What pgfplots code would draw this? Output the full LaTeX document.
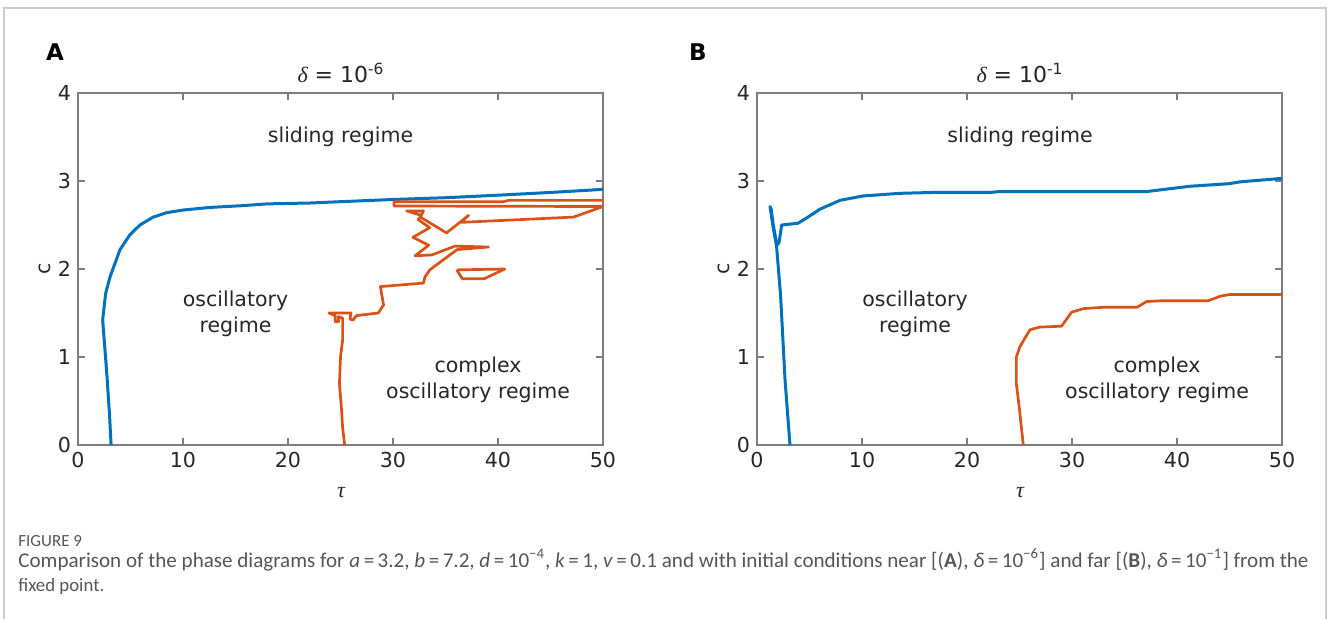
\documentclass[border=0pt]{standalone}
\usepackage{graphicx}
\usepackage{pgfplots}
\pgfplotsset{compat=1.18}
\usepackage{fontspec}
\setmainfont{DejaVu Sans}
\newfontfamily\grk{Liberation Serif}
\newfontfamily\capfont{Carlito}
\definecolor{mblue}{RGB}{0,114,189}
\definecolor{mred}{RGB}{217,83,25}
\definecolor{axgray}{RGB}{125,125,125}
\definecolor{txt}{RGB}{38,38,38}
\definecolor{capgray}{RGB}{85,85,85}
\definecolor{framegray}{RGB}{205,205,205}
\newcommand{\tickfont}{\fontsize{10.3bp}{12bp}\selectfont}
\newcommand{\regfont}{\fontsize{10.25bp}{13bp}\selectfont}
\pgfplotsset{myax/.style={
  scale only axis, width=262.5bp, height=176bp,
  xmin=0, xmax=50, ymin=0, ymax=4,
  xtick={0,10,20,30,40,50}, ytick={0,1,2,3,4},
  tick align=inside, major tick length=3.5bp,
  axis line style={axgray, line width=0.6bp},
  tick style={axgray, line width=0.6bp},
  tick label style={font=\tickfont, text=txt},
  /pgf/number format/assume math mode=true,
  anchor=south west, clip=true},
  blueline/.style={mblue, line width=1.5bp, line join=round, no markers},
  redline/.style={mred, line width=1.35bp, line join=round, no markers}
}
\begin{document}
\begin{tikzpicture}
\path[use as bounding box] (0,0) rectangle (665bp,309.5bp);
\draw[framegray, line width=0.6bp] (2bp,0) -- (2bp,305.5bp) -- (663bp,305.5bp) -- (663bp,0);

% ---------- Panel A ----------
\begin{axis}[myax, at={(39bp,87bp)}]
\addplot[blueline] coordinates {
(3.15,0) (3.0,0.35) (2.75,0.8) (2.35,1.42) (2.63,1.72) (3.05,1.91) (4.0,2.22)
(4.95,2.39) (5.9,2.5) (7.17,2.59) (8.44,2.64) (10.0,2.67) (12.6,2.70) (15.7,2.72)
(18,2.74) (22.1,2.75) (26,2.77) (30,2.79) (35,2.81) (40.2,2.84) (45,2.87) (50,2.905)};
\addplot[redline] coordinates {
(25.4,0) (25.2,0.2) (25.1,0.4) (24.9,0.7) (25.0,1.0) (25.2,1.19) (25.2,1.44)
(24.8,1.46) (24.8,1.40) (24.5,1.40) (24.5,1.47) (23.9,1.50) (26.0,1.50) (25.9,1.43)
(26.2,1.42) (26.5,1.47) (28.6,1.50) (29.1,1.59) (28.8,1.80) (32.9,1.84) (33.05,1.91)
(33.5,1.99) (36.1,2.22) (39.1,2.25) (35.9,2.26) (33.7,2.16) (32.1,2.15) (33.4,2.27)
(31.9,2.36) (33.5,2.47) (32.4,2.56) (32.7,2.61) (31.3,2.66) (32.9,2.66) (32.6,2.59)
(35.1,2.41) (37.2,2.61) (36.5,2.53) (47.2,2.59) (50,2.71) (30.1,2.716) (30.1,2.765)
(40.5,2.765) (41,2.78) (50,2.78)};
\addplot[redline] coordinates {
(36.07,1.99) (36.6,1.89) (38.7,1.89) (40.65,2.0) (36.07,1.99)};
\node[font=\regfont, text=txt] at (axis cs:25,3.5) {sliding regime};
\node[font=\regfont, text=txt, align=center] at (axis cs:15,1.49) {oscillatory\\regime};
\node[font=\regfont, text=txt, align=center] at (axis cs:38.1,0.74) {complex\\oscillatory regime};
\end{axis}

% ---------- Panel B ----------
\begin{axis}[myax, at={(378.5bp,87bp)}]
\addplot[blueline] coordinates {
(3.14,0) (2.67,0.74) (2.25,1.69) (1.87,2.25) (1.5,2.5) (1.24,2.71) (1.35,2.68)
(1.55,2.5) (1.9,2.27) (2.1,2.3) (2.35,2.5) (3.9,2.52) (4.73,2.58) (6.0,2.68)
(7.9,2.78) (10.1,2.83) (13.6,2.86) (16.8,2.87) (22.2,2.87) (23.1,2.88) (37.1,2.88)
(41.2,2.94) (45,2.97) (46,2.99) (50,3.03)};
\addplot[redline] coordinates {
(25.36,0) (25.0,0.4) (24.7,0.7) (24.7,1.0) (25.05,1.12) (26.0,1.31) (26.95,1.34)
(29.0,1.35) (29.97,1.51) (31.1,1.55) (33.0,1.565) (36.2,1.565) (37.1,1.63)
(38.7,1.64) (43.0,1.64) (44.1,1.69) (45.0,1.71) (50,1.71)};
\node[font=\regfont, text=txt] at (axis cs:25.05,3.5) {sliding regime};
\node[font=\regfont, text=txt, align=center] at (axis cs:15.05,1.49) {oscillatory\\regime};
\node[font=\regfont, text=txt, align=center] at (axis cs:38.1,0.74) {complex\\oscillatory regime};
\end{axis}

% ---------- labels ----------
\node[font=\fontsize{11.5bp}{13bp}\selectfont\bfseries, text=black] at (27.5bp,283.5bp) {A};
\node[font=\fontsize{11.5bp}{13bp}\selectfont\bfseries, text=black] at (349bp,283.5bp) {B};
\node[font=\fontsize{11bp}{13bp}\selectfont, text=txt] at (170.5bp,273bp) {{\grk\itshape δ} = 10\textsuperscript{-6}};
\node[font=\fontsize{11bp}{13bp}\selectfont, text=txt] at (510bp,273bp) {{\grk\itshape δ} = 10\textsuperscript{-1}};
\node[font=\tickfont, text=txt, rotate=90] at (22.5bp,175bp) {c};
\node[font=\tickfont, text=txt, rotate=90] at (362bp,175bp) {c};
\node[font=\fontsize{11bp}{13bp}\selectfont\grk\itshape, text=txt] at (170.5bp,63bp) {τ};
\node[font=\fontsize{11bp}{13bp}\selectfont\grk\itshape, text=txt] at (510bp,63bp) {τ};

% ---------- caption ----------
\node[anchor=base west, inner sep=0, text=capgray, font=\capfont\fontsize{8.5bp}{10bp}\selectfont] at (9bp,36.5bp) {FIGURE 9};
\node[anchor=base west, inner sep=0, text=capgray] at (9bp,26bp) {\resizebox{645bp}{!}{\capfont\fontsize{9.4bp}{11bp}\selectfont Comparison of the phase diagrams for \textit{a}\,=\,3.2, \textit{b}\,=\,7.2, \textit{d}\,=\,10\textsuperscript{−4}, \textit{k}\,=\,1, \textit{v}\,=\,0.1 and with initial conditions near [(\textbf{A}), \textit{δ}\,=\,10\textsuperscript{−6}] and far [(\textbf{B}), \textit{δ}\,=\,10\textsuperscript{−1}] from the}};
\node[anchor=base west, inner sep=0, text=capgray, font=\capfont\fontsize{9.4bp}{11bp}\selectfont] at (9bp,14bp) {fixed point.};
\end{tikzpicture}
\end{document}
